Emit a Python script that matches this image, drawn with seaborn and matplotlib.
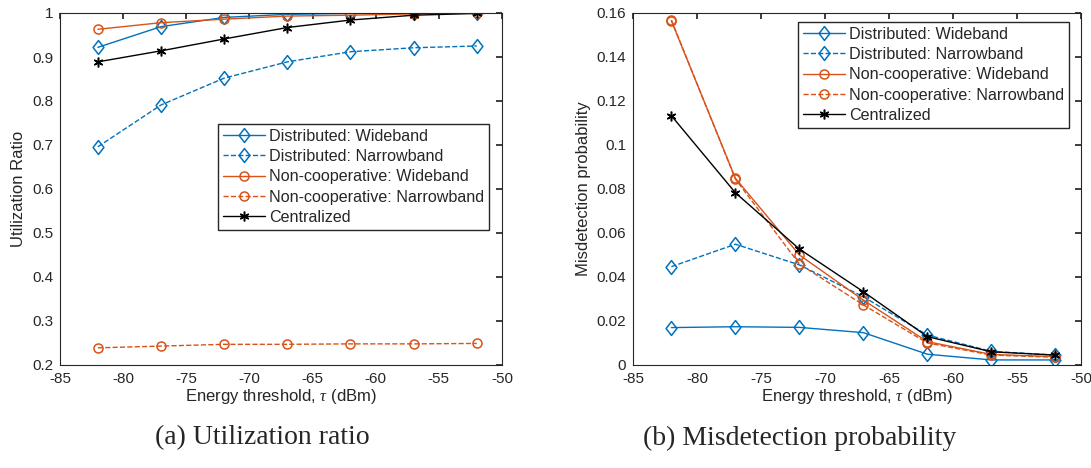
import numpy as np
import pandas as pd
import matplotlib
matplotlib.use('Agg')
import matplotlib.pyplot as plt
import seaborn as sns
from matplotlib.path import Path
from matplotlib.ticker import FuncFormatter

sns.set_theme(style='white')
plt.rcParams['font.family'] = ['Liberation Sans', 'DejaVu Sans']
plt.rcParams['axes.unicode_minus'] = False
plt.rcParams['mathtext.fontset'] = 'custom'
plt.rcParams['mathtext.it'] = 'Liberation Serif:italic'

# thresholds (dBm)
thresholds = [-82, -77, -72, -67, -62, -57, -52]

# utilization ratio
util_dist_wide = [0.922, 0.969, 0.990, 0.997, 0.999, 1.000, 1.000]
util_dist_narrow = [0.696, 0.791, 0.852, 0.889, 0.912, 0.921, 0.925]
util_noncoop_wide = [0.963, 0.978, 0.986, 0.993, 0.995, 0.998, 1.000]
util_noncoop_narrow = [0.239, 0.243, 0.247, 0.247, 0.248, 0.248, 0.249]
util_central = [0.889, 0.914, 0.941, 0.967, 0.984, 0.995, 0.999]

# misdetection probability
mis_dist_wide = [0.0170, 0.0174, 0.0171, 0.0147, 0.0049, 0.0023, 0.0023]
mis_dist_narrow = [0.0447, 0.0549, 0.0455, 0.0310, 0.0136, 0.0062, 0.0045]
mis_noncoop_wide = [0.1564, 0.0849, 0.0500, 0.0295, 0.0106, 0.0048, 0.0038]
mis_noncoop_narrow = [0.1568, 0.0845, 0.0459, 0.0273, 0.0100, 0.0045, 0.0035]
mis_central = [0.1133, 0.0783, 0.0527, 0.0333, 0.0129, 0.0060, 0.0045]

labels = ['Distributed: Wideband', 'Distributed: Narrowband',
          'Non-cooperative: Wideband', 'Non-cooperative: Narrowband',
          'Centralized']
blue = '#0072BD'
orange = '#D95319'
# matlab-like diamond (a bit wider than matplotlib's thin one)
diamond = Path([(0, 1), (0.78, 0), (0, -1), (-0.78, 0), (0, 1)],
               [Path.MOVETO, Path.LINETO, Path.LINETO, Path.LINETO, Path.CLOSEPOLY])
# (colour, linestyle, marker, markersize)
styles = [(blue, '-', diamond, 10), (blue, '--', diamond, 10),
          (orange, '-', 'o', 6.5), (orange, '--', 'o', 6.5),
          ('black', '-', (6, 2, 0), 7)]
txt = '#262626'

fig = plt.figure(figsize=(10.91, 4.68), dpi=100)
ax1 = fig.add_axes([60 / 1091, 103 / 468, 442 / 1091, 352 / 468])
ax2 = fig.add_axes([633 / 1091, 103 / 468, 448 / 1091, 352 / 468])


def draw(ax, series):
    for y, lab, (c, ls, m, ms) in zip(series, labels, styles):
        df = pd.DataFrame({'x': thresholds, 'y': y})
        sns.lineplot(data=df, x='x', y='y', ax=ax, color=c, linestyle=ls,
                     marker=m, markersize=ms, markerfacecolor='none',
                     markeredgecolor=c, markeredgewidth=1.1, linewidth=1.0,
                     label=lab)
    ax.set_xlim(-85, -50)
    ax.set_xticks(range(-85, -49, 5))
    ax.tick_params(direction='in', top=True, right=True, length=4,
                   labelsize=11, colors=txt, pad=5)
    for s in ax.spines.values():
        s.set_color(txt)
        s.set_linewidth(0.8)
    ax.yaxis.set_major_formatter(FuncFormatter(lambda v, p: '%g' % round(v, 4)))
    ax.set_xlabel(r'Energy threshold, $\tau$ (dBm)', fontsize=12, color=txt, labelpad=1)


def add_legend(ax, anchor):
    ax.legend(loc='upper left', bbox_to_anchor=anchor, fontsize=11.6,
              fancybox=False, edgecolor=txt, framealpha=1,
              borderpad=0.3, labelspacing=0.33, handlelength=2.6,
              handletextpad=0.3, borderaxespad=0)


draw(ax1, [util_dist_wide, util_dist_narrow, util_noncoop_wide,
           util_noncoop_narrow, util_central])
ax1.set_ylim(0.2, 1.0)
ax1.set_yticks(np.arange(0.2, 1.01, 0.1))
ax1.set_ylabel('Utilization Ratio', fontsize=12, color=txt, labelpad=4)
add_legend(ax1, (0.357, 0.685))

draw(ax2, [mis_dist_wide, mis_dist_narrow, mis_noncoop_wide,
           mis_noncoop_narrow, mis_central])
ax2.set_ylim(0, 0.16)
ax2.set_yticks(np.arange(0, 0.161, 0.02))
ax2.set_ylabel('Misdetection probability', fontsize=12, color=txt, labelpad=4)
add_legend(ax2, (0.368, 0.975))

fig.text(262 / 1091, 1 - 438 / 468, '(a) Utilization ratio', ha='center',
         va='center', fontsize=20, family='Liberation Serif')
fig.text(800 / 1091, 1 - 438 / 468, '(b) Misdetection probability', ha='center',
         va='center', fontsize=20, family='Liberation Serif')

fig.savefig('out.png', dpi=100)
